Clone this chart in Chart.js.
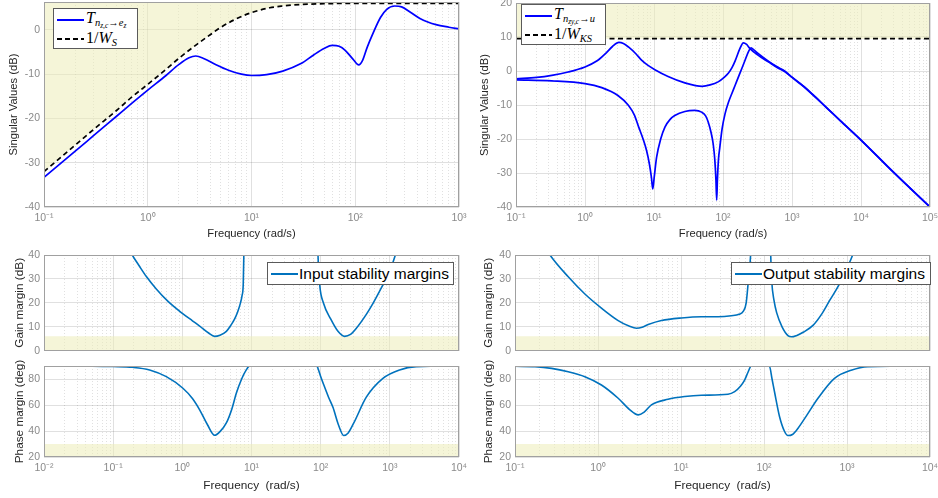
<!DOCTYPE html>
<html>
<head>
<meta charset="utf-8">
<script src="https://cdn.jsdelivr.net/npm/chart.js@4.4.0/dist/chart.umd.min.js"></script>
<style>
  body { margin:0; width:938px; height:498px; background:#fff; position:relative; overflow:hidden;
         font-family:"Liberation Sans", Arial, sans-serif; }
  canvas { position:absolute; }
  .leg { position:absolute; background:#fff; border:1px solid #5a5a5a; box-sizing:border-box; }
  .smp { position:absolute; left:3px; width:27px; height:2px; }
  .mt { position:absolute; left:32px; font-family:"Liberation Serif", "DejaVu Serif", serif; font-size:16px;
        line-height:18px; white-space:nowrap; color:#000; }
  .s1 { font-size:10.5px; position:relative; top:3px; }
  .s2 { font-size:7.5px; position:relative; top:1.5px; }
  .lt { position:absolute; left:31px; top:0; font-size:15.5px; line-height:21px; white-space:nowrap; color:#000; }
</style>
</head>
<body>
<canvas id="sv1"></canvas>
<canvas id="sv2"></canvas>
<canvas id="gm1"></canvas>
<canvas id="pm1"></canvas>
<canvas id="gm2"></canvas>
<canvas id="pm2"></canvas>

<div class="leg" style="left:53px;top:8px;width:85px;height:41px">
  <span class="smp" style="top:10px;background:#0000ff"></span>
  <span class="mt" style="top:0px;font-size:16px"><i>T</i><span class="s1"><i>n</i><span class="s2"><i>z,c</i></span>→<i>e</i><span class="s2"><i>z</i></span></span></span>
  <span class="smp" style="top:29px;background:repeating-linear-gradient(90deg,#000 0 5px,transparent 5px 8px)"></span>
  <span class="mt" style="top:20px">1/<i>W</i><span class="s1"><i>S</i></span></span>
</div>
<div class="leg" style="left:521px;top:4px;width:85px;height:41px">
  <span class="smp" style="top:10px;background:#0000ff"></span>
  <span class="mt" style="top:0px;font-size:16px"><i>T</i><span class="s1"><i>n</i><span class="s2"><i>zy,c</i></span>→<i>u</i></span></span>
  <span class="smp" style="top:29px;background:repeating-linear-gradient(90deg,#000 0 5px,transparent 5px 8px)"></span>
  <span class="mt" style="top:20px">1/<i>W</i><span class="s1"><i>KS</i></span></span>
</div>
<div class="leg" style="left:267px;top:262px;width:187px;height:23px">
  <span class="smp" style="top:10px;background:#0072bd"></span>
  <span class="lt">Input stability margins</span>
</div>
<div class="leg" style="left:731px;top:262px;width:200px;height:23px">
  <span class="smp" style="top:10px;background:#0072bd"></span>
  <span class="lt">Output stability margins</span>
</div>

<script>
// ---- data ----
const tFreq = [0.1, 0.2, 0.3, 0.5, 0.7, 1, 1.5, 2, 2.5, 2.9, 3.5, 4.5, 6, 8, 10, 14, 20, 30, 40, 50, 60, 70, 80, 95, 108, 118, 130, 150, 175, 200, 240, 280, 340, 420, 500, 600, 800, 1000];
const tVals = [-33.3, -27.4, -23.9, -19.5, -16.6, -13.6, -10.3, -7.8, -6.3, -5.9, -6.5, -7.8, -9.1, -10.0, -10.3, -10.1, -9.3, -7.6, -5.6, -4.2, -3.5, -3.7, -4.6, -6.6, -7.9, -6.8, -4.0, -0.5, 2.8, 4.6, 5.4, 5.2, 4.0, 2.6, 1.8, 1.2, 0.6, 0.2];

const wsFreq = [0.1, 0.2, 0.3, 0.5, 0.7, 1, 1.5, 2, 3, 4, 5, 7, 10, 15, 20, 30, 50, 100, 300, 1000];
const wsVals = [-32.0, -26.0, -22.5, -18.2, -15.2, -12.3, -8.9, -6.4, -3.2, -1.1, 0.5, 2.4, 3.9, 5.0, 5.4, 5.75, 5.9, 6.0, 6.0, 6.0];

const ksHiFreq = [0.1, 0.2, 0.33, 0.57, 1, 1.5, 2, 2.5, 3.1, 3.6, 4.3, 5.5, 6.6, 8, 10.3, 16, 28, 40, 50, 65, 85, 105, 120, 135, 150, 175, 197, 220, 246, 325, 454, 600, 800, 1000, 1500, 2000, 3000, 5000, 10000, 30000, 100000];
const ksHi = [-2.3, -1.9, -1.3, -0.3, 1.2, 3.0, 5.2, 7.2, 8.4, 8.1, 7.0, 5.0, 3.2, 1.8, 0.4, -1.6, -3.5, -4.3, -4.5, -4.1, -3.2, -1.8, -0.6, 1.0, 3.0, 6.5, 8.3, 7.8, 6.6, 4.6, 2.7, 1.1, -0.3, -1.8, -4.6, -6.9, -10.3, -14.6, -20.3, -29.9, -40];

const ksLoFreq = [0.1, 0.33, 1, 1.75, 3, 4.25, 5.2, 6, 7, 7.8, 8.6, 9.2, 9.6, 10.1, 10.9, 12.5, 14.4, 17, 20, 28, 39, 49, 56, 61, 67, 72, 76, 79, 81, 83, 86, 90, 97, 107, 120, 134, 150, 167, 188, 208, 235, 255, 280, 325, 454, 600, 800, 1000, 1500, 2000, 3000, 5000, 10000, 30000, 100000];
const ksLo = [-2.6, -2.9, -3.7, -4.9, -7.2, -10.1, -13.0, -16.5, -20.2, -23.4, -27.5, -31.5, -34.7, -31, -25.4, -20, -16.5, -14.3, -13.1, -11.9, -11.6, -12.1, -13.2, -15, -18, -21.4, -26, -32, -38, -32, -26, -22.4, -17, -12.6, -9.2, -6.7, -4.2, -1.8, 0.8, 3.1, 5.8, 6.8, 6.2, 5.1, 2.9, 1.3, -0.1, -1.9, -4.7, -7.0, -10.3, -14.6, -20.3, -29.9, -40];

const wksFreq = [0.1, 100000];
const wksVals = [9.5, 9.5];

const gmInFreqA = [0.15, 0.189, 0.24, 0.302, 0.42, 0.621, 1.0, 1.4, 1.78, 2.4, 2.93, 3.5, 4.33, 5.0, 5.71, 6.3, 6.9, 7.3, 7.6, 7.75, 7.85];
const gmInA = [46, 40, 35.3, 31.0, 25.8, 20.6, 15.6, 12.5, 10.3, 7.4, 6.0, 6.5, 8.1, 10.5, 13.3, 16.2, 19.8, 23, 28, 40, 55];
const gmInFreqB = [89, 91.5, 96.8, 110, 139.5, 178, 222, 270, 328, 457, 571, 700, 889, 1050, 1202, 1350];
const gmInB = [55, 40, 27.6, 19.8, 13.3, 8.1, 6.0, 6.8, 9.4, 15.2, 19.8, 24.5, 30.2, 35, 40, 45];

const pmInFreq = [0.01, 0.05, 0.1, 0.19, 0.337, 0.587, 1.02, 1.4, 1.78, 2.3, 2.93, 3.5, 4.33, 5.2, 6.03, 7.2, 8.4, 9.4, 88, 91, 100, 110, 130, 151, 180, 215, 250, 300, 457, 794, 1382, 2400, 10000];
const pmIn = [90, 89.9, 89.6, 89, 87, 81.8, 72.9, 65, 56.3, 45, 36.7, 39.5, 46.2, 57, 69, 80, 87, 90, 90, 88.5, 82, 76, 66, 58, 45, 36.5, 38.5, 46, 66, 80.5, 87, 89.5, 90];

const gmOutFreqA = [0.2, 0.264, 0.438, 0.695, 1.10, 1.75, 2.4, 2.91, 3.4, 4.02, 5.81, 10.1, 17.6, 27.9, 40.4, 50, 56.4, 61, 64.7, 67, 69, 71];
const gmOutA = [47, 40, 30.9, 23.7, 17.8, 12.6, 10.2, 9.4, 9.8, 10.9, 12.6, 13.7, 14.2, 14.2, 14.6, 15.2, 16.5, 20, 28.9, 34, 40, 48];
const gmOutFreqB = [118, 121, 124, 132, 142, 165, 196, 215, 245, 300, 392, 500, 621, 800, 986, 1170, 1300];
const gmOutB = [50, 38, 28.9, 21, 15.9, 10, 6.2, 5.8, 6.3, 7.8, 10.7, 15.5, 21.1, 27.5, 34.1, 40, 45];

const pmOutFreq = [0.1, 0.174, 0.276, 0.438, 0.695, 1.10, 1.75, 2.4, 3.05, 3.6, 4.4, 6.98, 11.1, 17.6, 36.8, 44.3, 52, 58.4, 64, 70.3, 116, 125, 134, 154, 177, 194, 220, 256, 330, 445, 707, 1122, 1778, 10000];
const pmOut = [89.8, 89.5, 88.2, 85.6, 81.8, 75.4, 65.2, 56.5, 52.4, 54.5, 60.1, 64.4, 66.5, 67.5, 68.3, 70.3, 74.5, 79.2, 85, 90, 90, 80, 70, 51, 39.6, 36.5, 37.3, 42, 52.4, 65, 80.5, 86.7, 89.5, 90];

// required margins (shaded bands)
const gmReq = [6, 6];
const pmReq = [30, 30];

// ---- styling ----
const BLUE = '#0000ff';
const MBLUE = '#0072bd';
const GRID = 'rgba(0,0,0,0.12)';
const MINOR = 'rgba(0,0,0,0.12)';
const TICKC = '#8a8a8a';
const LABC = '#262626';
const BOX = '#a0a0a0';
const SHADE = 'rgba(236,236,184,0.55)';

const pts = (xs, ys) => xs.map((x, i) => ({ x: x, y: ys[i] }));
const isDecade = v => Math.abs(Math.log10(v) - Math.round(Math.log10(v))) < 1e-6;
const SUP = { '-': '⁻', '0': '⁰', '1': '¹', '2': '²', '3': '³', '4': '⁴', '5': '⁵' };
const decadeLabel = v => '10' + String(Math.round(Math.log10(v))).split('').map(c => SUP[c]).join('');

function logTicks(min, max) {
  const out = [];
  for (let e = Math.round(Math.log10(min)); e <= Math.round(Math.log10(max)); e++) {
    for (let s = 1; s <= 9; s++) {
      const v = s * Math.pow(10, e);
      if (v >= min * 0.999 && v <= max * 1.001) out.push({ value: v });
    }
  }
  return out;
}

const boxPlugin = {
  id: 'box',
  afterDatasetsDraw(chart) {
    const a = chart.chartArea, ctx = chart.ctx;
    ctx.save();
    ctx.strokeStyle = BOX;
    ctx.lineWidth = 1;
    ctx.strokeRect(Math.round(a.left) + 0.5, Math.round(a.top) + 0.5,
      Math.round(a.right - a.left) - 1, Math.round(a.bottom - a.top) - 1);
    ctx.restore();
  }
};

function line(data, color, width, extra) {
  return Object.assign({ data: data, borderColor: color, borderWidth: width, fill: false }, extra || {});
}
function band(data, fill) {
  return { data: data, borderWidth: 0, borderColor: 'transparent', backgroundColor: SHADE, fill: fill };
}

function makeChart(id, area, cfg) {
  const PADT = 20, PADR = 24;
  const cv = document.getElementById(id);
  cv.width = cfg.yw + (area.r - area.l) + PADR;
  cv.height = PADT + (area.b - area.t) + cfg.xh;
  cv.style.left = (area.l - cfg.yw) + 'px';
  cv.style.top = (area.t - PADT) + 'px';
  return new Chart(cv, {
    type: 'line',
    data: { datasets: cfg.datasets },
    options: {
      responsive: false,
      animation: false,
      devicePixelRatio: 1,
      layout: { padding: { top: PADT, right: PADR, left: 0, bottom: 0 } },
      plugins: { legend: { display: false }, tooltip: { enabled: false } },
      elements: { point: { radius: 0 }, line: { cubicInterpolationMode: 'monotone' } },
      scales: {
        x: {
          type: 'logarithmic', min: cfg.xmin, max: cfg.xmax,
          afterBuildTicks: s => { s.ticks = logTicks(cfg.xmin, cfg.xmax); },
          ticks: {
            display: cfg.xlabels, autoSkip: false, maxRotation: 0, padding: 5,
            color: TICKC, font: { size: 10.5 },
            callback: v => isDecade(v) ? decadeLabel(v) : ''
          },
          grid: { drawTicks: false, color: c => isDecade(c.tick.value) ? GRID : 'transparent' },
          border: { display: false },
          title: {
            display: !!cfg.xtitle, text: cfg.xtitle, color: LABC,
            font: { size: cfg.tsize }, padding: { top: 0, bottom: 2 }
          },
          afterFit: s => { s.height = cfg.xh; }
        },
        xm: {
          type: 'logarithmic', position: 'bottom', min: cfg.xmin, max: cfg.xmax,
          afterBuildTicks: s => { s.ticks = logTicks(cfg.xmin, cfg.xmax); },
          ticks: { display: false },
          grid: { drawTicks: false, color: c => isDecade(c.tick.value) ? 'transparent' : MINOR },
          border: { display: false, dash: [1, 2] },
          afterFit: s => { s.height = 0; }
        },
        y: {
          min: cfg.ymin, max: cfg.ymax,
          ticks: { stepSize: cfg.ystep, includeBounds: false, padding: 4, color: TICKC, font: { size: 10.5 } },
          grid: { drawTicks: false, color: GRID },
          border: { display: false },
          title: {
            display: true, text: cfg.ytitle, color: LABC,
            font: { size: cfg.tsize }, padding: { top: cfg.ytp, bottom: 0 }
          },
          afterFit: s => { s.width = cfg.yw; }
        }
      }
    },
    plugins: [boxPlugin]
  });
}

// top left: sensitivity
makeChart('sv1', { l: 44, t: 2, r: 459, b: 207 }, {
  yw: 44, xh: 36, xmin: 0.1, xmax: 1000, ymin: -40, ymax: 6.3, ystep: 10,
  xlabels: true, xtitle: 'Frequency (rad/s)', ytitle: 'Singular Values (dB)', ytp: 7, tsize: 11.2,
  datasets: [
    line(pts(tFreq, tVals), BLUE, 1.7),
    line(pts(wsFreq, wsVals), '#000', 1.7, { borderDash: [5, 3.5], fill: 'end', backgroundColor: SHADE })
  ]
});

// top right: KS
makeChart('sv2', { l: 516, t: 3, r: 930, b: 207 }, {
  yw: 46, xh: 36, xmin: 0.1, xmax: 100000, ymin: -40, ymax: 20, ystep: 10,
  xlabels: true, xtitle: 'Frequency (rad/s)', ytitle: 'Singular Values (dB)', ytp: 8, tsize: 11.2,
  datasets: [
    line(pts(ksHiFreq, ksHi), BLUE, 1.7),
    line(pts(ksLoFreq, ksLo), BLUE, 1.7),
    line(pts(wksFreq, wksVals), '#000', 1.7, { borderDash: [5, 3.5], fill: 'end', backgroundColor: SHADE })
  ]
});

// bottom left: input margins
makeChart('gm1', { l: 44, t: 255, r: 459, b: 357 }, {
  yw: 44, xh: 4, xmin: 0.01, xmax: 10000, ymin: 0, ymax: 40, ystep: 10,
  xlabels: false, xtitle: '', ytitle: 'Gain margin (dB)', ytp: 13, tsize: 11.8,
  datasets: [
    line(pts(gmInFreqA, gmInA), MBLUE, 1.6),
    line(pts(gmInFreqB, gmInB), MBLUE, 1.6),
    band(pts([0.01, 10000], gmReq), 'start')
  ]
});
makeChart('pm1', { l: 44, t: 366, r: 459, b: 457 }, {
  yw: 44, xh: 38, xmin: 0.01, xmax: 10000, ymin: 20, ymax: 90, ystep: 20,
  xlabels: true, xtitle: 'Frequency  (rad/s)', ytitle: 'Phase margin (deg)', ytp: 13, tsize: 11.8,
  datasets: [
    line(pts(pmInFreq, pmIn), MBLUE, 1.6),
    band(pts([0.01, 10000], pmReq), 'start')
  ]
});

// bottom right: output margins
makeChart('gm2', { l: 515, t: 255, r: 930, b: 357 }, {
  yw: 47, xh: 4, xmin: 0.1, xmax: 10000, ymin: 0, ymax: 40, ystep: 10,
  xlabels: false, xtitle: '', ytitle: 'Gain margin (dB)', ytp: 14, tsize: 11.8,
  datasets: [
    line(pts(gmOutFreqA, gmOutA), MBLUE, 1.6),
    line(pts(gmOutFreqB, gmOutB), MBLUE, 1.6),
    band(pts([0.1, 10000], gmReq), 'start')
  ]
});
makeChart('pm2', { l: 515, t: 366, r: 930, b: 457 }, {
  yw: 47, xh: 38, xmin: 0.1, xmax: 10000, ymin: 20, ymax: 90, ystep: 20,
  xlabels: true, xtitle: 'Frequency  (rad/s)', ytitle: 'Phase margin (deg)', ytp: 14, tsize: 11.8,
  datasets: [
    line(pts(pmOutFreq, pmOut), MBLUE, 1.6),
    band(pts([0.1, 10000], pmReq), 'start')
  ]
});
</script>
</body>
</html>
